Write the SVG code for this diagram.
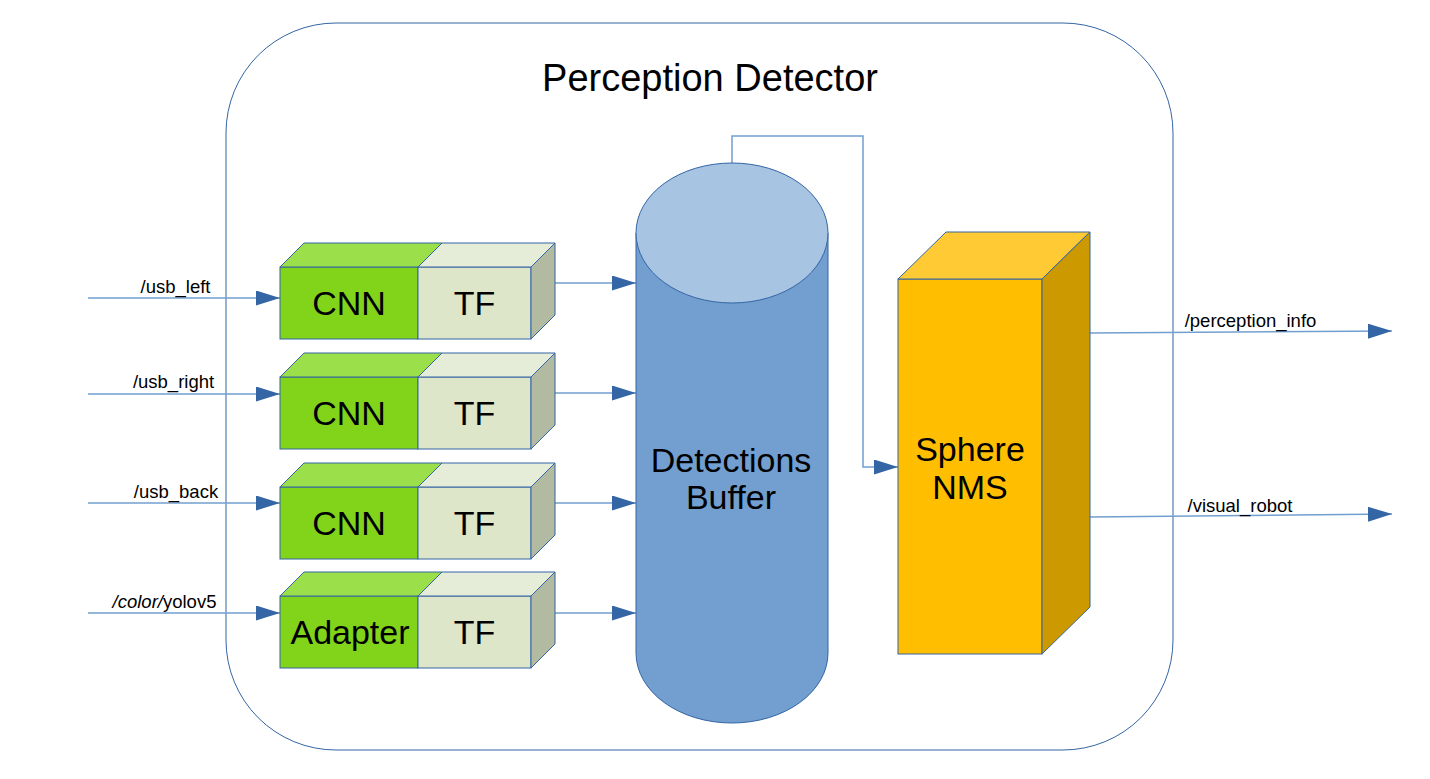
<svg xmlns="http://www.w3.org/2000/svg" width="1430" height="779" viewBox="0 0 1430 779">
<style>
text{font-family:"Liberation Sans",Arial,sans-serif;fill:#000}
.lbl{font-size:18.5px}
.big{font-size:34px;text-anchor:middle}
.edge{stroke:#3465a4;stroke-width:1}
.gf{fill:#81d41a}.gt{fill:#9bdf4a}
.tf{fill:#dee6ca}.tt{fill:#e5ecd8}.ts{fill:#b2baa2}
.con{fill:none;stroke:#729fcf;stroke-width:1.5}
</style>
<defs>
<marker id="ah" markerUnits="userSpaceOnUse" markerWidth="24" markerHeight="15" refX="24" refY="7.5" orient="auto">
<path d="M0,0 L24,7.5 L0,15 z" fill="#3465a4"/>
</marker>
</defs>
<rect width="1430" height="779" fill="#fff"/>
<g id="detector">
<rect x="226" y="23" width="947" height="727" rx="110" ry="110" fill="none" stroke="#3465a4" stroke-width="1"/>
<text x="710" y="91" font-size="38" text-anchor="middle">Perception Detector</text>
</g>
<g id="connectors">
<path class="con" d="M88,298 H280" marker-end="url(#ah)"/>
<path class="con" d="M88,394 H280" marker-end="url(#ah)"/>
<path class="con" d="M88,503 H280" marker-end="url(#ah)"/>
<path class="con" d="M88,613 H280" marker-end="url(#ah)"/>
<path class="con" d="M555,283 H636" marker-end="url(#ah)"/>
<path class="con" d="M555,393 H636" marker-end="url(#ah)"/>
<path class="con" d="M555,503 H636" marker-end="url(#ah)"/>
<path class="con" d="M555,613 H636" marker-end="url(#ah)"/>
<path class="con" d="M732,163 V136 H863 V467 H898" marker-end="url(#ah)"/>
<path class="con" d="M1090,333 L1392,331" marker-end="url(#ah)"/>
<path class="con" d="M1090,517 L1392,514" marker-end="url(#ah)"/>
<text class="lbl" x="175.5" y="293" text-anchor="middle">/usb_left</text>
<text class="lbl" x="173.5" y="388" text-anchor="middle">/usb_right</text>
<text class="lbl" x="176" y="498" text-anchor="middle">/usb_back</text>
<text class="lbl" x="164.5" y="608" text-anchor="middle"><tspan font-style="italic">/color/</tspan>yolov5</text>
<text class="lbl" x="1250.5" y="327" text-anchor="middle">/perception_info</text>
<text class="lbl" x="1240" y="512" text-anchor="middle">/visual_robot</text>
</g>
<g id="cnn1">
<rect class="gf edge" x="280" y="267" width="138" height="72"/>
<polygon class="gt edge" points="280,267 304,243 442,243 418,267"/>
<rect class="tf edge" x="418" y="267" width="113" height="72"/>
<polygon class="tt edge" points="418,267 442,243 555,243 531,267"/>
<polygon class="ts edge" points="531,267 555,243 555,315 531,339"/>
<text class="big" x="349" y="315">CNN</text>
<text class="big" x="474.5" y="315">TF</text>
</g>
<g id="cnn2">
<rect class="gf edge" x="280" y="377" width="138" height="72"/>
<polygon class="gt edge" points="280,377 304,353 442,353 418,377"/>
<rect class="tf edge" x="418" y="377" width="113" height="72"/>
<polygon class="tt edge" points="418,377 442,353 555,353 531,377"/>
<polygon class="ts edge" points="531,377 555,353 555,425 531,449"/>
<text class="big" x="349" y="425">CNN</text>
<text class="big" x="474.5" y="425">TF</text>
</g>
<g id="cnn3">
<rect class="gf edge" x="280" y="487" width="138" height="72"/>
<polygon class="gt edge" points="280,487 304,463 442,463 418,487"/>
<rect class="tf edge" x="418" y="487" width="113" height="72"/>
<polygon class="tt edge" points="418,487 442,463 555,463 531,487"/>
<polygon class="ts edge" points="531,487 555,463 555,535 531,559"/>
<text class="big" x="349" y="535">CNN</text>
<text class="big" x="474.5" y="535">TF</text>
</g>
<g id="adapter">
<rect class="gf edge" x="280" y="596" width="138" height="72"/>
<polygon class="gt edge" points="280,596 304,572 442,572 418,596"/>
<rect class="tf edge" x="418" y="596" width="113" height="72"/>
<polygon class="tt edge" points="418,596 442,572 555,572 531,596"/>
<polygon class="ts edge" points="531,596 555,572 555,644 531,668"/>
<text class="big" x="350" y="644">Adapter</text>
<text class="big" x="474.5" y="644">TF</text>
</g>
<g id="buffer">
<path d="M636,233 V653 A96,70 0 0 0 828,653 V233 Z" fill="#729fcf" stroke="#3465a4" stroke-width="1"/>
<ellipse cx="732" cy="233" rx="96" ry="70" fill="#a7c4e2" stroke="#3465a4" stroke-width="1"/>
<text class="big" x="731" y="472">Detections</text>
<text class="big" x="731" y="509">Buffer</text>
</g>
<g id="nms">
<rect x="898" y="279" width="144" height="375" fill="#ffbf00" class="edge"/>
<polygon points="898,279 946,232 1090,232 1042,279" fill="#ffca33" class="edge"/>
<polygon points="1042,279 1090,232 1090,607 1042,654" fill="#cc9900" class="edge"/>
<text class="big" x="970" y="461">Sphere</text>
<text class="big" x="970" y="499">NMS</text>
</g>
</svg>
